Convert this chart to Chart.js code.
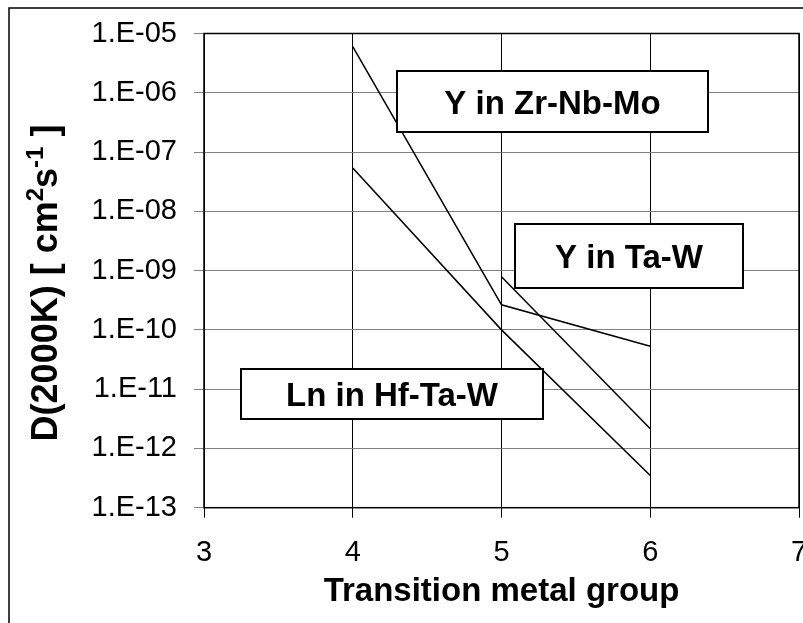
<!DOCTYPE html>
<html>
<head>
<meta charset="utf-8">
<script src="https://cdn.jsdelivr.net/npm/chart.js@4/dist/chart.umd.min.js"></script>
<style>
  html, body { margin: 0; padding: 0; background: #fff; }
  #wrap { width: 803px; height: 623px; }
</style>
</head>
<body>
<div id="wrap"><canvas id="my-chart" width="803" height="623"></canvas></div>
<script>
// transition metal group on x, diffusion coefficient at 2000K on y
const groups = [4, 5, 6]
const zrNbMo = [6.0e-6, 2.65e-10, 5.3e-11]
const taW = [null, 7.9e-10, 2.15e-12]
const hfTaW = [5.4e-8, 1.0e-10, 3.5e-13]

const xTicks = [3, 4, 5, 6, 7]
const yExponents = [-13, -12, -11, -10, -9, -8, -7, -6, -5]

const seriesNames = ['Y in Zr-Nb-Mo', 'Y in Ta-W', 'Ln in Hf-Ta-W']
const yTitleParts = [['D(2000K) [ cm', 0], ['2', 1], ['s', 0], ['-1', 1], [' ]', 0]]
const xTitle = 'Transition metal group'

const toPoints = (vals) => groups.map((g, i) => ({ x: g, y: vals[i] })).filter(p => p.y !== null)

const FONT = "Arial, 'Liberation Sans', sans-serif"

// outer frame + plot border
const framePlugin = {
    id: 'frame',
    beforeDraw(chart) {
        const ctx = chart.ctx
        ctx.save()
        ctx.fillStyle = '#fff'
        ctx.fillRect(0, 0, chart.width, chart.height)
        ctx.strokeStyle = '#000'
        ctx.lineWidth = 1.5
        ctx.beginPath()
        ctx.moveTo(9, chart.height + 5)
        ctx.lineTo(9, 8)
        ctx.lineTo(chart.width + 5, 8)
        ctx.stroke()
        ctx.restore()
    },
    afterDatasetsDraw(chart) {
        const { ctx, chartArea: a } = chart
        ctx.save()
        ctx.strokeStyle = '#000'
        ctx.lineWidth = 1.5
        ctx.strokeRect(a.left, a.top, a.right - a.left, a.bottom - a.top)
        ctx.restore()
    }
}

// label boxes for the three curves
const boxPlugin = {
    id: 'boxes',
    afterDraw(chart) {
        const ctx = chart.ctx
        const boxes = [
            { text: seriesNames[0], l: 397, t: 71, r: 708, b: 132 },
            { text: seriesNames[1], l: 515, t: 224, r: 743, b: 288 },
            { text: seriesNames[2], l: 241, t: 369, r: 543, b: 419 }
        ]
        ctx.save()
        boxes.forEach(bx => {
            ctx.fillStyle = '#fff'
            ctx.fillRect(bx.l, bx.t, bx.r - bx.l, bx.b - bx.t)
            ctx.strokeStyle = '#000'
            ctx.lineWidth = 2
            ctx.strokeRect(bx.l, bx.t, bx.r - bx.l, bx.b - bx.t)
            ctx.fillStyle = '#000'
            ctx.font = 'bold 33px ' + FONT
            ctx.textAlign = 'center'
            ctx.textBaseline = 'alphabetic'
            ctx.fillText(bx.text, (bx.l + bx.r) / 2, (bx.t + bx.b) / 2 + 12)
        })

        // y title with superscripts
        const big = 'bold 36px ' + FONT
        const small = 'bold 24px ' + FONT
        let total = 0
        yTitleParts.forEach(([s, sup]) => {
            ctx.font = sup ? small : big
            total += ctx.measureText(s).width
        })
        ctx.translate(57, 283)
        ctx.rotate(-Math.PI / 2)
        ctx.textAlign = 'left'
        ctx.fillStyle = '#000'
        let x = -total / 2
        yTitleParts.forEach(([s, sup]) => {
            ctx.font = sup ? small : big
            ctx.fillText(s, x, sup ? -14 : 0)
            x += ctx.measureText(s).width
        })
        ctx.restore()
    }
}

const lineStyle = { borderColor: '#000', borderWidth: 1.5, pointRadius: 0, fill: false, tension: 0 }

const myChart = document.getElementById('my-chart')

new Chart(myChart, {
    type: 'line',
    data: {
        datasets: [
            { label: seriesNames[0], data: toPoints(zrNbMo), ...lineStyle },
            { label: seriesNames[1], data: toPoints(taW), ...lineStyle },
            { label: seriesNames[2], data: toPoints(hfTaW), ...lineStyle }
        ]
    },
    options: {
        responsive: false,
        animation: false,
        layout: { padding: { top: 33.5, right: 4, left: 0, bottom: 0 } },
        plugins: {
            legend: { display: false },
            tooltip: { enabled: false }
        },
        scales: {
            x: {
                type: 'linear',
                min: 3,
                max: 7,
                afterBuildTicks: (s) => { s.ticks = xTicks.map(v => ({ value: v })) },
                afterFit: (s) => {
                    s.height = 115.3
                    s.paddingLeft = 0
                    s.paddingRight = 0
                },
                grid: { color: '#000', lineWidth: 1, tickLength: 10, tickColor: '#000' },
                border: { display: false },
                ticks: {
                    color: '#000',
                    padding: 18,
                    font: { family: FONT, size: 29 }
                },
                title: {
                    display: true,
                    text: xTitle,
                    color: '#000',
                    font: { family: FONT, size: 33, weight: 'bold' },
                    padding: { top: 0, bottom: 11 }
                }
            },
            y: {
                type: 'logarithmic',
                min: 1e-13,
                max: 1e-5,
                afterBuildTicks: (s) => { s.ticks = yExponents.map(e => ({ value: Math.pow(10, e) })) },
                afterFit: (s) => {
                    s.width = 204
                    s.paddingTop = 0
                    s.paddingBottom = 0
                },
                grid: { color: '#808080', lineWidth: 1, tickLength: 10, tickColor: '#808080' },
                border: { display: false },
                ticks: {
                    color: '#000',
                    padding: 17,
                    font: { family: FONT, size: 29 },
                    callback: (v) => {
                        const e = Math.round(Math.log10(v))
                        return '1.E-' + String(-e).padStart(2, '0')
                    }
                }
            }
        }
    },
    plugins: [framePlugin, boxPlugin]
})
</script>
</body>
</html>
